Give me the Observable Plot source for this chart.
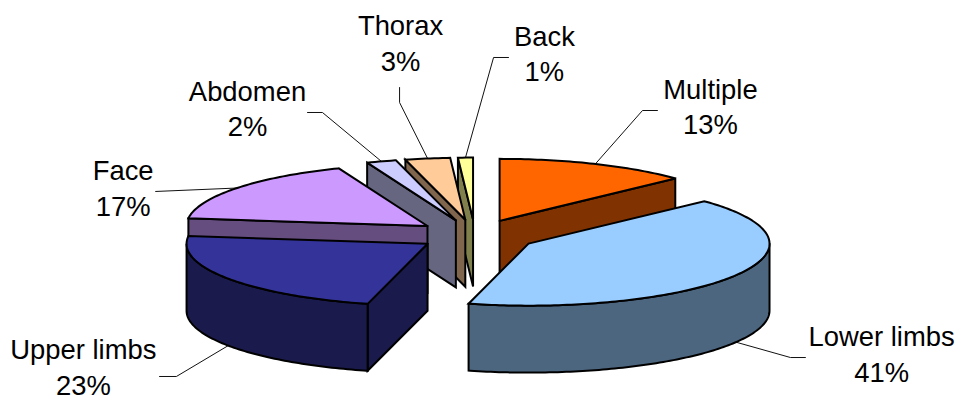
<!DOCTYPE html>
<html>
<head>
<meta charset="utf-8">
<style>
  html, body { margin: 0; padding: 0; background: #fff; }
  svg { display: block; }
</style>
<script src="https://cdn.jsdelivr.net/npm/d3@7"></script>
<script src="https://cdn.jsdelivr.net/npm/@observablehq/plot@0.6"></script>
</head>
<body>
<script>
// Injury sites, share of all cases (%), clockwise from twelve o'clock.
const regions = ["Multiple", "Lower limbs", "Upper limbs", "Face", "Abdomen", "Thorax", "Back"];
const shares = [13, 41, 23, 17, 2, 3, 1];
const topColors = ["#FF6600", "#99CCFF", "#333399", "#CC99FF", "#CCCCFF", "#FFCC99", "#FFFF99"];
const sideColors = ["#803300", "#4D6680", "#1A1A4D", "#664D80", "#666680", "#80664D", "#80804D"];

// Slices further back are painted first so the nearer ones overlap them.
const paintOrder = ["Multiple", "Back", "Thorax", "Abdomen", "Face", "Upper limbs", "Lower limbs"];

// Pie geometry in chart units: the rim is the unit circle, v grows towards the viewer.
const explode = [0.257, 0.258, 0.238, 0.2495, 0.257, 0.257, 0.257];
const depth = 1.08;

// Label placement in chart units: centre x and baseline of the lower line.
const labelX = [0.977, 1.687, -1.625, -1.46, -0.944, -0.309, 0.288];
const labelY = [-1.63, 2.355, 2.57, -0.322, -1.597, -2.661, -2.484];
// Leader lines: elbow point, then the end next to the label.
const elbowX = [0.695, 1.309, -1.239, -1.326, -0.633, -0.313, 0.077];
const elbowY = [-2.016, 1.968, 2.274, -0.71, -1.984, -2.145, -2.871];
const endX = [0.757, 1.371, -1.309, -1.326, -0.695, -0.313, 0.139];
const endY = [-2.016, 1.968, 2.274, -0.71, -1.984, -2.387, -2.871];

const rad = (deg) => (deg * Math.PI) / 180;
const total = d3.sum(shares);
const cumulative = d3.cumsum(shares);

const slices = regions.map((name, i) => {
  const start = ((cumulative[i] - shares[i]) / total) * 360;
  const end = (cumulative[i] / total) * 360;
  const mid = (start + end) / 2;
  return {
    name, i, start, end, mid,
    cx: explode[i] * Math.sin(rad(mid)),
    cy: -explode[i] * Math.cos(rad(mid))
  };
});

const rimPoint = (s, deg, drop = 0) => ({
  x: s.cx + Math.sin(rad(deg)),
  y: s.cy - Math.cos(rad(deg)) + drop
});
const arc = (s, a, b, drop = 0) =>
  d3.range(a, b, 1).concat(b).map((deg) => rimPoint(s, deg, drop));

// Every facet is a closed outline: walls facing the viewer, then the top.
const facets = [];
const addFacet = (id, color, pts) => {
  [...pts, pts[0]].forEach((p) => facets.push({ id, color, x: p.x, y: p.y }));
};
paintOrder
  .map((name) => slices.find((s) => s.name === name))
  .forEach((s) => {
    const apex = { x: s.cx, y: s.cy };
    const apexLow = { x: s.cx, y: s.cy + depth };
    const side = sideColors[s.i];
    if (Math.sin(rad(s.start)) < -1e-9) {
      addFacet(s.name + " start wall", side, [
        apex, rimPoint(s, s.start), rimPoint(s, s.start, depth), apexLow
      ]);
    }
    if (Math.sin(rad(s.end)) > 1e-9) {
      addFacet(s.name + " end wall", side, [
        apex, rimPoint(s, s.end), rimPoint(s, s.end, depth), apexLow
      ]);
    }
    const a = Math.max(s.start, 90);
    const b = Math.min(s.end, 270);
    if (a < b) {
      addFacet(s.name + " rim", side, [
        ...arc(s, a, b), ...arc(s, a, b, depth).reverse()
      ]);
    }
    addFacet(s.name + " top", topColors[s.i], [apex, ...arc(s, s.start, s.end)]);
  });

// Leaders start on the visible rim at each slice's mid-angle.
const leaders = slices.flatMap((s) => {
  const frontFacing = Math.cos(rad(s.mid)) < 0;
  const anchor = rimPoint(s, s.mid, frontFacing ? depth : 0);
  return [anchor, { x: elbowX[s.i], y: elbowY[s.i] }, { x: endX[s.i], y: endY[s.i] }]
    .map((p) => ({ ...p, id: s.name }));
});

const labels = slices.map((s) => ({
  x: labelX[s.i],
  y: labelY[s.i],
  text: `${s.name}\n${shares[s.i]}%`
}));

const chart = Plot.plot({
  width: 957,
  height: 401,
  margin: 0,
  style: { background: "#fff", overflow: "visible" },
  x: { domain: [-474.5 / 241, 482.5 / 241], axis: null },
  y: { domain: [-235 / 62, 166 / 62], range: [0, 401], axis: null },
  color: { type: "identity" },
  marks: [
    Plot.line(leaders, {
      x: "x", y: "y", z: "id",
      stroke: "#111", strokeWidth: 1
    }),
    Plot.line(facets, {
      x: "x", y: "y", z: "id",
      fill: "color",
      stroke: "#000",
      strokeWidth: 2,
      strokeLinejoin: "miter",
      strokeMiterlimit: 3
    }),
    Plot.text(labels, {
      x: "x", y: "y", text: "text",
      textAnchor: "middle",
      lineAnchor: "bottom",
      lineHeight: 1.31,
      fontFamily: "Liberation Sans",
      fontSize: 27.4,
      fill: "#000"
    })
  ]
});
document.body.appendChild(chart);
</script>
</body>
</html>
